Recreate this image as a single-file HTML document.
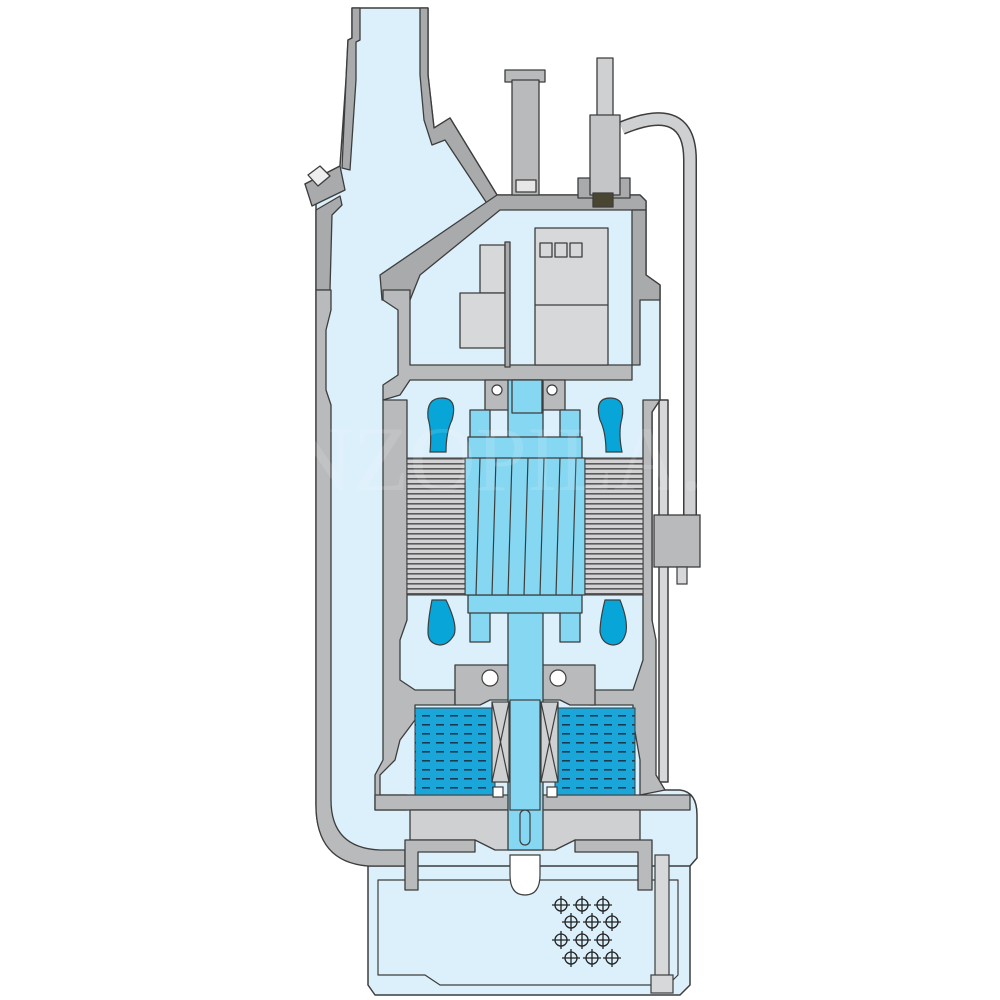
<!DOCTYPE html>
<html><head><meta charset="utf-8"><style>
html,body{margin:0;padding:0;background:#fff;width:1000px;height:1000px;overflow:hidden}
svg{display:block}
</style></head><body>
<svg width="1000" height="1000" viewBox="0 0 1000 1000" xmlns="http://www.w3.org/2000/svg">
<defs>
<pattern id="lam" width="6" height="5" patternUnits="userSpaceOnUse">
<rect width="6" height="5" fill="#d2d2d4"/><rect y="3" width="6" height="1.6" fill="#5a5a5a"/>
</pattern>
<pattern id="oil" width="14" height="9" patternUnits="userSpaceOnUse">
<rect width="14" height="9" fill="#1aa6d8"/><rect x="2" y="4" width="8" height="1.6" fill="#1b3c50"/>
</pattern>
<g id="h"><circle cx="0" cy="0" r="6"/><line x1="-9" y1="0" x2="9" y2="0"/><line x1="0" y1="-9" x2="0" y2="9"/></g>
</defs>
<g stroke="#3d3d3d" stroke-width="1.5" stroke-linejoin="round">
<path d="M622,128 Q690,100 690,160 L690,515" fill="none" stroke="#3d3d3d" stroke-width="14"/>
<path d="M622,128 Q690,100 690,160 L690,515" fill="none" stroke="#cfd0d2" stroke-width="11"/>
<rect x="659" y="400" width="9" height="382" fill="#d7d8da"/>
<path d="M368,865 L690,865 L690,985 L680,995 L375,995 L368,985 Z" fill="#dcf0fb"/>
<path d="M378,880 L678,880 L678,975 L668,985 L440,985 L425,975 L378,975 Z" fill="none" stroke-width="1.2"/>
<path d="M352,8 L428,8 L428,75 L434,128 L450,118 L497,195 L640,195 L646,201 L646,275 L660,285 L660,400 L652,412 L652,775 L665,790 L680,790 Q697,792 697,815 L697,858 L690,866 L368,866 Q316,860 316,805 L316,200 L305,184 L340,166 L346,80 L348,40 L352,38 Z" fill="#dcf0fb"/>
</g>
<g stroke="#3d3d3d" stroke-width="1.3" stroke-linejoin="round" fill="#b9babc">
<path d="M352,8 L360,8 L360,40 L356,42 L356,80 L350,170 L342,168 L346,80 L348,40 L352,38 Z" fill="#a9aaac"/>
<path d="M420,8 L428,8 L428,75 L434,128 L450,118 L497,195 L490,208 L445,140 L432,145 L424,120 L420,75 Z" fill="#a9aaac"/>
<path d="M305,184 L340,166 L345,190 L312,206 Z" fill="#a9aaac"/>
<path d="M308,175 L320,166 L330,176 L318,186 Z" fill="#eee"/>
<path d="M316,210 L340,196 L342,205 L332,215 L330,290 L316,290 Z" fill="#a9aaac"/>
<path d="M316,290 L331,290 L331,310 L326,330 L326,390 L331,405 L331,800 Q331,848 380,850 L405,850 L405,866 L368,866 Q316,862 316,805 Z"/>
<path d="M497,195 L640,195 L646,201 L646,210 L500,210 L420,275 L410,300 L382,300 L380,275 Z" fill="#a9aaac"/>
<path d="M632,210 L646,210 L646,275 L660,285 L660,300 L640,300 L640,365 L632,365 Z" fill="#a9aaac"/>
<path d="M383,290 L410,290 L410,365 L632,365 L632,380 L545,380 L545,392 L508,392 L508,380 L410,380 L400,395 L383,400 L383,385 L398,375 L398,310 L383,300 Z"/>
<path d="M485,380 L565,380 L565,410 L485,410 Z"/>
<path d="M383,400 L407,400 L407,620 L400,640 L400,680 L415,690 L455,690 L455,705 L415,705 L415,720 L400,740 L395,760 L380,775 L380,795 L407,795 L407,810 L375,810 L375,775 L383,760 Z"/>
<path d="M643,400 L660,400 L652,412 L652,620 L656,640 L656,775 L665,790 L640,795 L640,760 L633,720 L633,705 L590,705 L590,690 L633,690 L643,660 Z"/>
<path d="M455,665 L595,665 L595,705 L570,705 L560,700 L490,700 L480,705 L455,705 Z"/>
<path d="M375,795 L690,795 L690,810 L375,810 Z"/>
<path d="M410,810 L640,810 L640,840 L575,840 L555,850 L495,850 L475,840 L410,840 Z" fill="#cfd0d2"/>
<path d="M405,840 L475,840 L475,852 L418,852 L418,890 L405,890 Z"/>
<path d="M575,840 L652,840 L652,890 L638,890 L638,852 L575,852 Z"/>
<rect x="505" y="70" width="40" height="12"/>
<rect x="512" y="80" width="27" height="115"/>
<rect x="516" y="180" width="20" height="12" fill="#e6e6e6"/>
<rect x="578" y="178" width="52" height="20" fill="#a9aaac"/>
<rect x="597" y="58" width="16" height="135" fill="#cfd0d2"/>
<rect x="590" y="115" width="30" height="80" fill="#c4c5c7"/>
<rect x="593" y="193" width="20" height="14" fill="#4a4530"/>
<rect x="535" y="228" width="73" height="137" fill="#d7d8da"/>
<rect x="540" y="243" width="12" height="14" fill="#d7d8da"/><rect x="555" y="243" width="12" height="14" fill="#d7d8da"/><rect x="570" y="243" width="12" height="14" fill="#d7d8da"/>
<line x1="535" y1="305" x2="608" y2="305"/>
<rect x="480" y="245" width="25" height="48" fill="#d7d8da"/>
<rect x="460" y="293" width="45" height="55" fill="#d7d8da"/>
<rect x="505" y="242" width="5" height="125" fill="#a9aaac"/>
<!-- shaft first -->
<rect x="508" y="380" width="35" height="470" fill="#86d7f2"/>
<rect x="512" y="380" width="30" height="33" fill="#86d7f2"/>
<!-- rotor -->
<rect x="470" y="410" width="20" height="30" fill="#86d7f2"/>
<rect x="560" y="410" width="20" height="30" fill="#86d7f2"/>
<rect x="470" y="612" width="20" height="30" fill="#86d7f2"/>
<rect x="560" y="612" width="20" height="30" fill="#86d7f2"/>
<rect x="468" y="437" width="114" height="22" fill="#86d7f2"/>
<rect x="468" y="595" width="114" height="18" fill="#86d7f2"/>
<rect x="465" y="458" width="120" height="137" fill="#86d7f2"/>
</g>
<g stroke="#3d3d3d" stroke-width="1.2">
<line x1="476" y1="595" x2="480" y2="458"/><line x1="492" y1="595" x2="496" y2="458"/><line x1="508" y1="595" x2="512" y2="458"/><line x1="524" y1="595" x2="528" y2="458"/><line x1="540" y1="595" x2="544" y2="458"/><line x1="556" y1="595" x2="560" y2="458"/><line x1="572" y1="595" x2="576" y2="458"/>
</g>
<rect x="407" y="458" width="58" height="137" fill="url(#lam)" stroke="#3d3d3d"/>
<rect x="585" y="458" width="58" height="137" fill="url(#lam)" stroke="#3d3d3d"/>
<g fill="#08a6d8" stroke="#3d3d3d" stroke-width="1.2">
<path d="M430,452 L446,452 Q446,432 452,420 Q458,398 442,398 Q426,398 428,418 Q432,432 430,452 Z"/>
<path d="M606,452 L622,452 Q618,432 622,418 Q626,398 610,398 Q594,398 600,420 Q606,432 606,452 Z"/>
<path d="M432,600 L446,600 Q458,625 454,635 Q448,645 440,645 Q428,644 428,632 Q428,620 432,600 Z"/>
<path d="M605,600 L620,600 Q628,620 626,632 Q623,645 613,645 Q602,644 600,632 Q600,620 605,600 Z"/>
</g>
<g fill="#fff" stroke="#3d3d3d" stroke-width="1.2">
<circle cx="497" cy="390" r="5"/><circle cx="552" cy="390" r="5"/>
<circle cx="490" cy="678" r="8"/><circle cx="558" cy="678" r="8"/>
</g>
<path d="M415,708 L495,708 L495,795 L415,795 Z" fill="url(#oil)" stroke="#3d3d3d"/>
<path d="M555,708 L635,708 L635,795 L555,795 Z" fill="url(#oil)" stroke="#3d3d3d"/>
<g fill="#cfd0d2" stroke="#3d3d3d" stroke-width="1.2">
<rect x="492" y="702" width="17" height="80"/><rect x="541" y="702" width="17" height="80"/>
<line x1="492" y1="702" x2="509" y2="782"/><line x1="509" y1="702" x2="492" y2="782"/>
<line x1="541" y1="702" x2="558" y2="782"/><line x1="558" y1="702" x2="541" y2="782"/>
<rect x="493" y="787" width="10" height="10" fill="#fff"/><rect x="547" y="787" width="10" height="10" fill="#fff"/>
<rect x="510" y="700" width="30" height="110" fill="#86d7f2"/>
<rect x="520" y="810" width="10" height="35" rx="5" fill="#86d7f2"/>
<path d="M510,855 L540,855 L540,875 Q540,895 525,895 Q510,895 510,875 Z" fill="#fff"/>
<rect x="655" y="855" width="14" height="130" fill="#d7d8da"/>
<rect x="651" y="975" width="22" height="18" fill="#d7d8da"/>
</g>
<g fill="none" stroke="#222" stroke-width="1.3">
<use href="#h" x="561" y="905"/><use href="#h" x="582" y="905"/><use href="#h" x="603" y="905"/>
<use href="#h" x="571" y="922"/><use href="#h" x="592" y="922"/><use href="#h" x="612" y="922"/>
<use href="#h" x="561" y="940"/><use href="#h" x="582" y="940"/><use href="#h" x="603" y="940"/>
<use href="#h" x="571" y="958"/><use href="#h" x="592" y="958"/><use href="#h" x="612" y="958"/>
</g>
<rect x="654" y="515" width="46" height="52" fill="#b9babc" stroke="#3d3d3d" stroke-width="1.3"/>
<rect x="677" y="567" width="10" height="17" fill="#d7d8da" stroke="#3d3d3d" stroke-width="1.2"/>
<text x="500" y="490" text-anchor="middle" font-family="Liberation Serif, serif" font-size="92" fill="#ffffff" fill-opacity="0.12">BENZOPILA.RU</text>
</svg>
</body></html>
